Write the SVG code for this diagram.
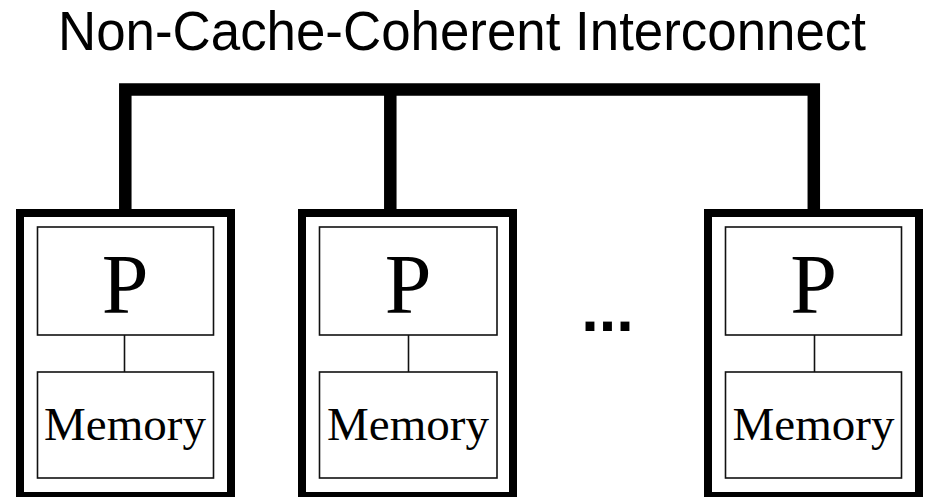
<svg xmlns="http://www.w3.org/2000/svg" width="931" height="497" viewBox="0 0 931 497">
  <style>
    .title { font-family: "Liberation Sans", Arial, sans-serif; font-size: 55px; fill: #000; }
    .node-outer { fill: #fff; stroke: #000; stroke-width: 8; }
    .unit { fill: #fff; stroke: #111; stroke-width: 1.6; }
    .link { stroke: #111; stroke-width: 1.6; fill: none; }
    .bus { stroke: #000; stroke-width: 12.5; fill: none; stroke-linejoin: miter; }
    .p { font-family: "Liberation Serif", "Times New Roman", serif; font-size: 84px; fill: #000; text-anchor: middle; }
    .mem { font-family: "Liberation Serif", "Times New Roman", serif; font-size: 47px; fill: #000; text-anchor: middle; }
    .dots { font-family: "Liberation Sans", Arial, sans-serif; font-size: 63px; font-weight: bold; fill: #000; text-anchor: middle; }
  </style>
  <rect width="931" height="497" fill="#fff"/>

  <text class="title" x="58" y="50" textLength="808" lengthAdjust="spacingAndGlyphs">Non-Cache-Coherent Interconnect</text>

  <!-- shared interconnect bus -->
  <g id="connectors">
    <path class="bus" d="M125.3 209 V89.6 H813.8 V209"/>
    <path class="bus" d="M390.3 89.6 V209"/>
  </g>

  <g id="node1">
    <rect class="node-outer" x="20" y="213" width="211" height="283"/>
    <rect class="unit" x="37.5" y="227" width="176" height="108"/>
    <line class="link" x1="124.5" y1="335" x2="124.5" y2="372"/>
    <rect class="unit" x="37.5" y="372" width="176" height="106"/>
    <text class="p" x="125" y="312.5">P</text>
    <text class="mem" x="125" y="440">Memory</text>
  </g>

  <g id="node2">
    <rect class="node-outer" x="302" y="213" width="211" height="283"/>
    <rect class="unit" x="319.5" y="227" width="177.5" height="108"/>
    <line class="link" x1="408.5" y1="335" x2="408.5" y2="372"/>
    <rect class="unit" x="319.5" y="372" width="177.5" height="106"/>
    <text class="p" x="408" y="312.5">P</text>
    <text class="mem" x="408" y="440">Memory</text>
  </g>

  <g id="ellipsis">
    <text class="dots" x="607.5" y="331">...</text>
  </g>

  <g id="node3">
    <rect class="node-outer" x="708" y="213" width="211" height="283"/>
    <rect class="unit" x="725.5" y="227" width="176" height="108"/>
    <line class="link" x1="814.5" y1="335" x2="814.5" y2="372"/>
    <rect class="unit" x="725.5" y="372" width="176" height="106"/>
    <text class="p" x="813.5" y="312.5">P</text>
    <text class="mem" x="813.5" y="440">Memory</text>
  </g>
</svg>
